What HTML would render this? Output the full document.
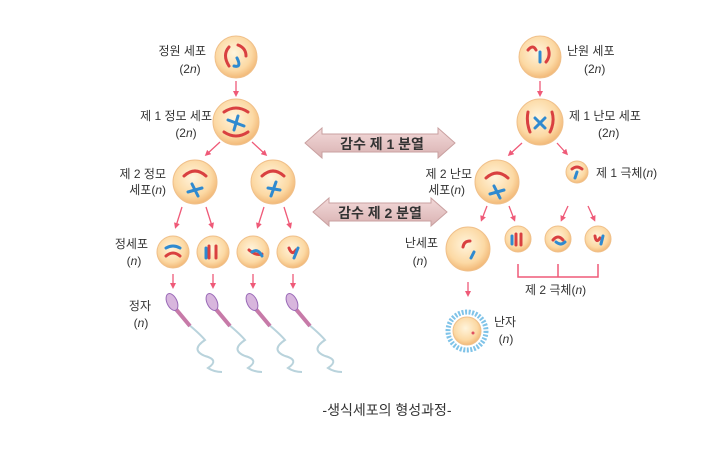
<!DOCTYPE html><html><head><meta charset="utf-8"><style>
body{margin:0;background:#fff;}
svg{display:block}
text{font-family:"Liberation Sans","Noto Sans CJK KR",sans-serif;font-size:12px;fill:#333}
.n{font-style:italic}
</style></head><body>
<svg width="709" height="462" viewBox="0 0 709 462" xmlns="http://www.w3.org/2000/svg">
<defs>
<radialGradient id="c" cx="45%" cy="40%" r="60%"><stop offset="0" stop-color="#fff4dc"/><stop offset="0.7" stop-color="#fcd9a4"/><stop offset="1" stop-color="#f2b978"/></radialGradient>
<linearGradient id="ar" x1="0" y1="0" x2="0" y2="1"><stop offset="0" stop-color="#f3dada"/><stop offset="1" stop-color="#d9b2b2"/></linearGradient>
<marker id="m" markerWidth="6" markerHeight="6" refX="3" refY="3" orient="auto" markerUnits="userSpaceOnUse"><path d="M0,0 L6,3 L0,6 z" fill="#ef5a78"/></marker>
</defs>
<g stroke="#ef5a78" stroke-width="1.3" marker-end="url(#m)">
<line x1="236" y1="81" x2="236" y2="94"/>
<line x1="220" y1="142" x2="207" y2="154"/><line x1="252" y1="142" x2="265" y2="154"/>
<line x1="182" y1="207" x2="176" y2="226"/><line x1="206" y1="207" x2="212" y2="226"/>
<line x1="264" y1="207" x2="258" y2="226"/><line x1="284" y1="207" x2="290" y2="226"/>
<line x1="173" y1="274" x2="173" y2="286"/><line x1="213" y1="274" x2="213" y2="286"/>
<line x1="253" y1="274" x2="253" y2="286"/><line x1="293" y1="274" x2="293" y2="286"/>
<line x1="540" y1="81" x2="540" y2="94"/>
<line x1="522" y1="143" x2="510" y2="154"/><line x1="557" y1="143" x2="566" y2="153"/>
<line x1="487" y1="206" x2="482" y2="219"/><line x1="509" y1="206" x2="514" y2="219"/>
<line x1="568" y1="206" x2="562" y2="219"/><line x1="588" y1="206" x2="594" y2="219"/>
<line x1="468" y1="282" x2="468" y2="294"/>
</g>
<path d="M518 264 V277 H598 V264 M558 264 V277" fill="none" stroke="#ef5a78" stroke-width="1.5"/>
<path d="M305 143 L322 128 L322 134 L438 134 L438 128 L455 143 L438 158 L438 152 L322 152 L322 158 Z" fill="url(#ar)" stroke="#c9a0a0"/>
<path d="M313 212 L329 198 L329 203 L431 203 L431 198 L447 212 L431 226 L431 221 L329 221 L329 226 Z" fill="url(#ar)" stroke="#c9a0a0"/>
<text x="382" y="149" text-anchor="middle" style="font-size:14px;font-weight:bold" fill="#333">감수 제 1 분열</text>
<text x="380" y="218" text-anchor="middle" style="font-size:14px;font-weight:bold" fill="#333">감수 제 2 분열</text>
<g fill="url(#c)" stroke="#f0c08a">
<circle cx="236" cy="57" r="21"/><circle cx="236" cy="122" r="23"/>
<circle cx="195" cy="182" r="22"/><circle cx="273" cy="182" r="22"/>
<circle cx="173" cy="252" r="16"/><circle cx="213" cy="252" r="16"/><circle cx="253" cy="252" r="16"/><circle cx="293" cy="252" r="16"/>
<circle cx="540" cy="57" r="21"/><circle cx="540" cy="122" r="23"/>
<circle cx="497" cy="182" r="22"/><circle cx="577" cy="172" r="11"/>
<circle cx="468" cy="249" r="22"/>
<circle cx="518" cy="239" r="13"/><circle cx="558" cy="239" r="13"/><circle cx="598" cy="239" r="13"/>
</g>
<circle cx="467" cy="331" r="19" fill="none" stroke="#7fc3e8" stroke-width="5" stroke-dasharray="2 1.5"/>
<circle cx="467" cy="331" r="14" fill="url(#c)" stroke="#f0c08a"/>
<circle cx="473" cy="333" r="1.5" fill="#e05060"/>
<g fill="none" stroke-width="3" stroke-linecap="round">
<g stroke="#d94040"><path d="M229 47 Q222 55 229 66"/><path d="M238 45 Q246 48 246 56"/>
<path d="M224 112 Q236 104 248 112"/><path d="M224 132 Q236 140 248 132"/>
<path d="M184 176 Q195 166 206 176"/><path d="M262 176 Q273 166 284 176"/>
<path d="M166 256 Q173 250 180 256"/><path d="M209 246 L209 258 M216 246 L216 258"/><path d="M249 250 Q256 256 262 254"/><path d="M289 248 Q292 256 296 250"/>
<path d="M528 50 Q533 44 536 50"/><path d="M548 48 Q551 56 546 62"/>
<path d="M528 112 Q526 122 530 132"/><path d="M552 112 Q555 122 550 132"/>
<path d="M486 178 Q497 168 508 178"/><path d="M572 169 Q577 165 582 169"/>
<path d="M463 247 Q464 241 470 241"/>
<path d="M516 234 L516 245 M521 234 L521 245"/><path d="M553 240 Q558 234 563 240"/><path d="M595 236 Q596 244 600 238"/>
</g>
<g stroke="#2f8ad0"><path d="M237 58 Q242 68 234 66"/>
<path d="M228 120 L244 126 M238 116 L234 130"/>
<path d="M192 184 L198 196 M188 192 L202 188"/><path d="M276 182 L271 196 M268 188 L280 190"/>
<path d="M166 248 Q173 244 180 248"/><path d="M206 248 L206 258"/><path d="M252 252 Q258 248 262 256"/><path d="M298 248 L294 258"/>
<path d="M540 52 L540 62"/><path d="M535 118 L545 128 M545 118 L535 128"/>
<path d="M494 186 L500 198 M490 194 L504 190"/><path d="M577 172 L575 178"/>
<path d="M474 252 L471 258"/><path d="M512 236 L512 244"/><path d="M556 242 Q561 246 565 242"/><path d="M603 236 L601 244"/>
</g>
</g>
<g>
<g id="sp"><path d="M175 310 L188 324 Q200 334 205 340 Q190 350 205 356 Q220 360 208 368 Q214 372 222 372" fill="none" stroke="#b9d3dc" stroke-width="2"/>
<path d="M175 308 L190 326" stroke="#c77aa8" stroke-width="4"/>
<ellipse cx="172" cy="302" rx="5" ry="9" fill="#d8b6dd" stroke="#9a6ab8" transform="rotate(-25 172 302)"/></g>
<use href="#sp" x="40"/><use href="#sp" x="80"/><use href="#sp" x="120"/>
</g>
<text x="206" y="55" text-anchor="end">정원 세포</text><text x="190" y="73" text-anchor="middle">(2<tspan class="n">n</tspan>)</text>
<text x="212" y="120" text-anchor="end">제 1 정모 세포</text><text x="186" y="137" text-anchor="middle">(2<tspan class="n">n</tspan>)</text>
<text x="166" y="178" text-anchor="end">제 2 정모</text><text x="166" y="194" text-anchor="end">세포(<tspan class="n">n</tspan>)</text>
<text x="148" y="248" text-anchor="end">정세포</text><text x="134" y="265" text-anchor="middle">(<tspan class="n">n</tspan>)</text>
<text x="151" y="310" text-anchor="end">정자</text><text x="141" y="327" text-anchor="middle">(<tspan class="n">n</tspan>)</text>
<text x="567" y="55">난원 세포</text><text x="584" y="73">(2<tspan class="n">n</tspan>)</text>
<text x="569" y="120">제 1 난모 세포</text><text x="598" y="137">(2<tspan class="n">n</tspan>)</text>
<text x="596" y="177">제 1 극체(<tspan class="n">n</tspan>)</text>
<text x="472" y="178" text-anchor="end">제 2 난모</text><text x="465" y="194" text-anchor="end">세포(<tspan class="n">n</tspan>)</text>
<text x="438" y="247" text-anchor="end">난세포</text><text x="420" y="265" text-anchor="middle">(<tspan class="n">n</tspan>)</text>
<text x="525" y="294">제 2 극체(<tspan class="n">n</tspan>)</text>
<text x="494" y="326">난자</text><text x="506" y="343" text-anchor="middle">(<tspan class="n">n</tspan>)</text>
<text x="387" y="415" text-anchor="middle" style="font-size:14px" fill="#222">-생식세포의 형성과정-</text>
</svg>
</body></html>
